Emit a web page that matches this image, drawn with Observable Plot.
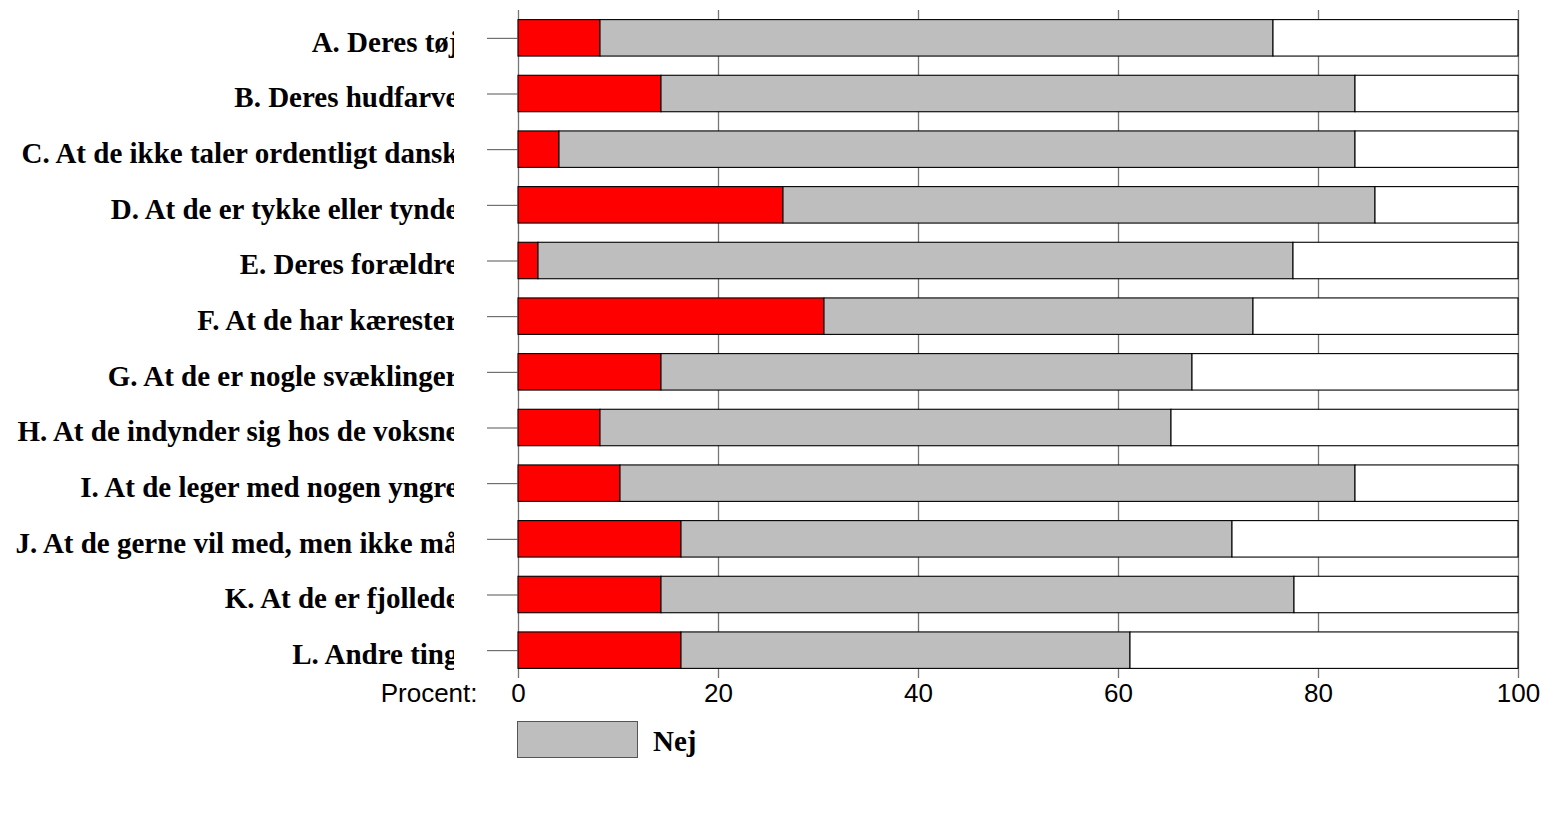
<!DOCTYPE html>
<html>
<head>
<meta charset="utf-8">
<script src="https://cdn.jsdelivr.net/npm/d3@7"></script>
<script src="https://cdn.jsdelivr.net/npm/@observablehq/plot@0.6"></script>
<style>
  body { margin: 0; background: #fff; }
  #legend { display: flex; align-items: center; margin-left: 517px; margin-top: 9px; height: 37px; }
  #legend .box { width: 119px; height: 35px; background: #bebebe; border: 1px solid #555; }
  #legend .lbl { font-family: "Liberation Serif", serif; font-weight: bold; font-size: 29px; margin-left: 15px; position: relative; top: 2px; }
</style>
</head>
<body>
<div id="chart"></div>
<div id="legend"><div class="box"></div><div class="lbl">Nej</div></div>
<script>
const questions = [
  "A. Deres tøj",
  "B. Deres hudfarve",
  "C. At de ikke taler ordentligt dansk",
  "D. At de er tykke eller tynde",
  "E. Deres forældre",
  "F. At de har kærester",
  "G. At de er nogle svæklinger",
  "H. At de indynder sig hos de voksne",
  "I. At de leger med nogen yngre",
  "J. At de gerne vil med, men ikke må",
  "K. At de er fjollede",
  "L. Andre ting"
];
const seriesNames = ["Ja", "Nej", "Ved ikke"];
const seriesColors = ["#ff0000", "#bebebe", "#ffffff"];
const jaValues      = [8.2, 14.3, 4.1, 26.5, 2.0, 30.6, 14.3, 8.2, 10.2, 16.3, 14.3, 16.3];
const nejValues     = [67.3, 69.4, 79.6, 59.2, 75.5, 42.9, 53.1, 57.1, 73.5, 55.1, 63.3, 44.9];
const vedIkkeValues = [24.5, 16.3, 16.3, 14.3, 22.5, 26.5, 32.6, 34.7, 16.3, 28.6, 22.4, 38.8];
const xTicks = [0, 20, 40, 60, 80, 100];
const axisTitle = "Procent:";

const seriesValues = [jaValues, nejValues, vedIkkeValues];
const rows = questions.flatMap((q, i) =>
  seriesNames.map((s, j) => ({question: q, series: s, value: seriesValues[j][i]}))
);

const plot = Plot.plot({
  width: 1546,
  height: 712,
  marginLeft: 518,
  marginRight: 28,
  marginTop: 10,
  marginBottom: 34,
  style: {fontFamily: "'Liberation Sans', Arial, sans-serif", fontSize: "26px", background: "#fff", color: "#000", overflow: "visible"},
  x: {domain: [0, 100]},
  y: {domain: questions, paddingInner: 0.345, paddingOuter: 0.1725, round: false},
  color: {domain: seriesNames, range: seriesColors},
  marks: [
    Plot.gridX(xTicks, {stroke: "#777", strokeOpacity: 1, strokeWidth: 1.3}),
    Plot.barX(rows, {y: "question", x: "value", fill: "series", stroke: "#000", strokeWidth: 1.1}),
    Plot.axisY({tickSize: 31, tickPadding: 29, stroke: "#555", label: null}),
    Plot.axisX({ticks: xTicks, tickSize: 0, tickPadding: 5, label: null, fontSize: 26}),
    Plot.text([axisTitle], {frameAnchor: "bottom-left", text: d => d, dx: -41, dy: 5, textAnchor: "end", lineAnchor: "top", fontSize: 26})
  ]
});
document.getElementById("chart").appendChild(plot);

// style & clip y-axis tick labels (bold serif, clipped just before the ticks)
const svg = d3.select(plot);
const defs = svg.insert("defs", ":first-child");
const clipRect = defs.append("clipPath").attr("id", "ylabclip").attr("clipPathUnits", "userSpaceOnUse")
  .append("rect").attr("x", -2000).attr("y", -100).attr("height", 1000);
const yLabG = svg.selectAll('g[aria-label="y-axis tick label"]');
let tx = 0;
const gtr = yLabG.attr("transform");
if (gtr) {
  const m = /translate\(\s*([-\d.]+)/.exec(gtr);
  if (m) tx = +m[1];
}
clipRect.attr("width", 2000 + 454 - tx);
yLabG.attr("clip-path", "url(#ylabclip)")
  .attr("font-family", "'Liberation Serif', 'Times New Roman', serif")
  .attr("font-weight", "bold")
  .attr("font-size", 29);
yLabG.selectAll("text").each(function() {
  const t = d3.select(this);
  t.attr("font-family", "'Liberation Serif', 'Times New Roman', serif").attr("font-weight", "bold").attr("font-size", 29);
  let tr = t.attr("transform");
  if (!tr) {
    const x = +t.attr("x") || 0, y = +t.attr("y") || 0;
    t.attr("x", null).attr("y", null);
    tr = `translate(${x},${y})`;
  }
  t.attr("transform", tr + " translate(0,4)");
});
svg.selectAll('g[aria-label="x-axis tick label"] text').attr("font-size", 26);
</script>
</body>
</html>
